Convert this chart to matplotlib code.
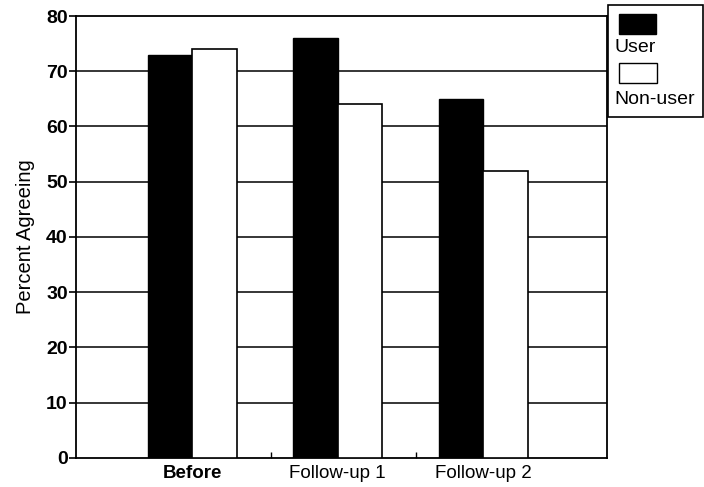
import numpy as np
import matplotlib
matplotlib.use("Agg")
import matplotlib.pyplot as plt
from matplotlib.patches import Rectangle

# Werte
gruppen = ["Before", "Follow-up 1", "Follow-up 2"]
user = [73, 76, 65]
non_user = [74, 64, 52]
y_ticks = [0, 10, 20, 30, 40, 50, 60, 70, 80]

plt.rcParams['font.family'] = ['Liberation Sans', 'DejaVu Sans']

fig = plt.figure(figsize=(7.04, 4.87), dpi=100)
ax = fig.add_axes([0.108, 0.06, 0.754, 0.907])

x = np.arange(len(gruppen))
w = 0.305

ax.bar(x - w / 2, user, width=w, color='black', edgecolor='black', linewidth=1, zorder=3)
ax.bar(x + w / 2, non_user, width=w, color='white', edgecolor='black', linewidth=1.2, zorder=3)

# horizontale Linien hinter den Balken
for t in y_ticks[1:-1]:
    ax.axhline(t, color='black', linewidth=1.1, zorder=1)

ax.set_ylim(0, 80)
ax.set_xlim(-0.8, 2.85)
ax.set_yticks(y_ticks)
ax.set_yticklabels([str(t) for t in y_ticks], fontsize=14, fontweight='bold')
ax.set_xticks(x)
ax.set_xticklabels(gruppen, fontsize=13.5)
ax.get_xticklabels()[0].set_fontweight('bold')
ax.tick_params(axis='x', length=0, pad=5)
ax.set_xticks([0.54, 1.54], minor=True)
ax.tick_params(axis='x', which='minor', direction='in', length=4, width=1)
ax.tick_params(axis='y', direction='out', length=5, width=1.2, pad=1)
ax.set_ylabel("Percent Agreeing", fontsize=14.5, labelpad=8)

for s in ax.spines.values():
    s.set_linewidth(1.3)
    s.set_color('black')

# Legende: Symbol ueber dem Text, mit Rahmen
fig.patches.append(Rectangle((608 / 704, 1 - 117 / 487), 95 / 704, 112 / 487,
                             transform=fig.transFigure, facecolor='white',
                             edgecolor='black', linewidth=1.2))
fig.patches.append(Rectangle((619 / 704, 1 - 34 / 487), 37 / 704, 20 / 487,
                             transform=fig.transFigure, facecolor='black',
                             edgecolor='black', linewidth=1))
fig.text(614 / 704, 1 - 47 / 487, "User", fontsize=14, va='center', ha='left')
fig.patches.append(Rectangle((619 / 704, 1 - 83 / 487), 38 / 704, 20 / 487,
                             transform=fig.transFigure, facecolor='white',
                             edgecolor='black', linewidth=1))
fig.text(614 / 704, 1 - 99 / 487, "Non-user", fontsize=14, va='center', ha='left')

fig.savefig("out.png", dpi=100, facecolor='white')
